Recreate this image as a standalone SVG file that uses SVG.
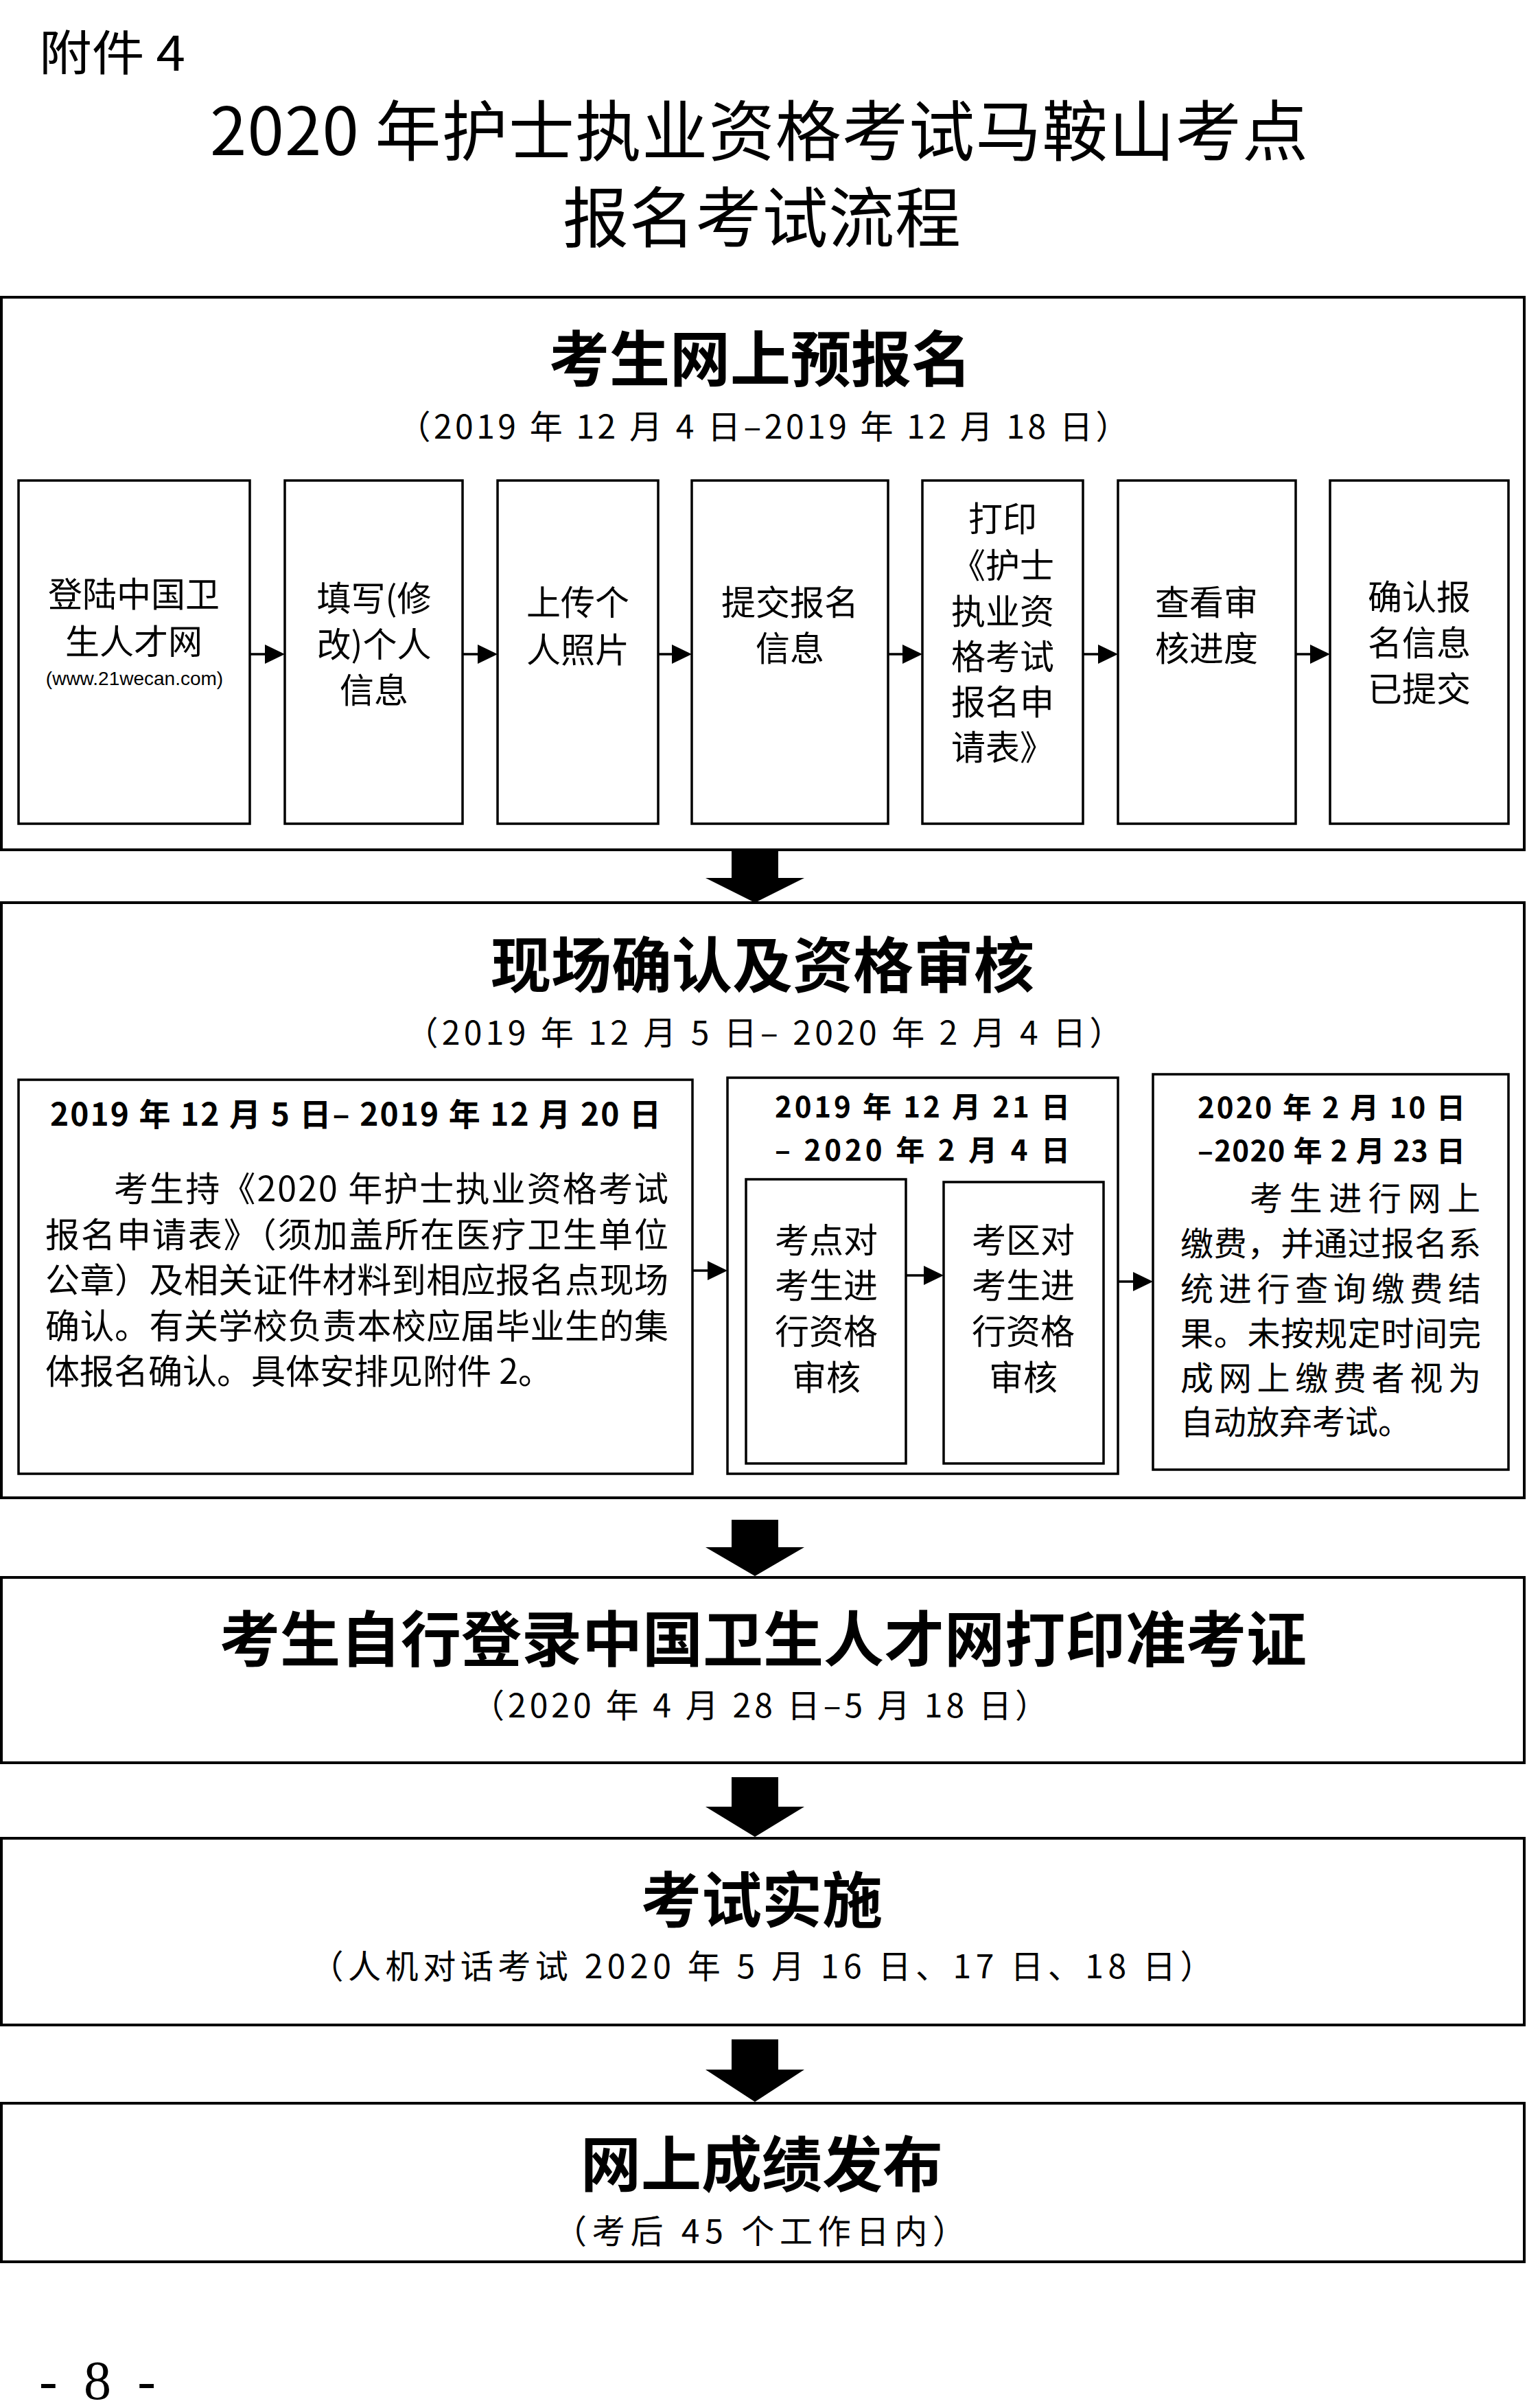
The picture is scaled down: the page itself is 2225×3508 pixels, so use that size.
<svg xmlns="http://www.w3.org/2000/svg" width="2225" height="3508" viewBox="0 0 2225 3508">
<style>
  .bg { fill: #ffffff; }
  .outer { fill: #ffffff; stroke: #000; stroke-width: 4; }
  .inner { fill: #ffffff; stroke: #000; stroke-width: 3.5; }
  .t { font-family: "Noto Sans CJK SC", "Noto Sans", sans-serif; fill: #000; }
  .cal { font-family: "Noto Sans CJK SC", sans-serif; font-size: 96px; fill: #000; }
  .h1 { font-family: "Noto Sans CJK SC", sans-serif; font-weight: 700; font-size: 88px; fill: #000; text-anchor: middle; }
  .sub { font-family: "Noto Sans CJK SC", sans-serif; font-size: 48px; fill: #000; text-anchor: middle; }
  .h2 { font-family: "Noto Sans CJK SC", sans-serif; font-weight: 700; font-size: 46px; fill: #000; text-anchor: middle; }
  .h3 { font-family: "Noto Sans CJK SC", sans-serif; font-weight: 700; font-size: 42px; fill: #000; text-anchor: middle; }
  .body { font-family: "Noto Sans CJK SC", sans-serif; font-size: 50px; fill: #000; }
  .bm { font-family: "Noto Sans CJK SC", sans-serif; font-size: 50px; fill: #000; text-anchor: middle; }
  .rb { font-family: "Noto Sans CJK SC", sans-serif; font-size: 48px; fill: #000; }
  .url { font-family: "Liberation Sans", sans-serif; font-size: 28px; fill: #000; text-anchor: middle; }
  .conn { stroke: #000; stroke-width: 3.5; fill: none; }
  .head { fill: #000; stroke: none; }
</style>
<rect class="bg" x="0" y="0" width="2225" height="3508"/>

<g id="header">
  <text class="t" x="57" y="103" font-size="70" textLength="213" lengthAdjust="spacingAndGlyphs">附件 4</text>
  <text class="cal" x="306" y="226" textLength="1600" lengthAdjust="spacing">2020 年护士执业资格考试马鞍山考点</text>
  <text class="cal" x="820" y="352" textLength="580" lengthAdjust="spacing" font-size="92">报名考试流程</text>
</g>

<!-- Section 1 -->
<g id="section1">
  <rect class="outer" x="2" y="433" width="2219" height="805"/>
  <text class="h1" x="1108" y="555">考生网上预报名</text>
  <text class="sub" x="1112" y="639" textLength="1065" lengthAdjust="spacing">（2019 年 12 月 4 日–2019 年 12 月 18 日）</text>
</g>
<g id="s1-login">
  <rect class="inner" x="27" y="700" width="337" height="500"/>
  <text class="bm" x="195" y="884">登陆中国卫</text>
  <text class="bm" x="195" y="953">生人才网</text>
  <text class="url" x="196" y="998">(www.21wecan.com)</text>
</g>
<g id="s1-fill">
  <rect class="inner" x="415" y="700" width="259" height="500"/>
  <text class="bm" x="545" y="890">填写(修</text>
  <text class="bm" x="545" y="957">改)个人</text>
  <text class="bm" x="545" y="1024">信息</text>
</g>
<g id="s1-photo">
  <rect class="inner" x="725" y="700" width="234" height="500"/>
  <text class="bm" x="842" y="896">上传个</text>
  <text class="bm" x="842" y="965">人照片</text>
</g>
<g id="s1-submit">
  <rect class="inner" x="1008" y="700" width="286" height="500"/>
  <text class="bm" x="1151" y="896">提交报名</text>
  <text class="bm" x="1151" y="963">信息</text>
</g>
<g id="s1-print">
  <rect class="inner" x="1344" y="700" width="234" height="500"/>
  <text class="bm" x="1461" y="774">打印</text>
  <text class="bm" x="1461" y="842">《护士</text>
  <text class="bm" x="1461" y="909">执业资</text>
  <text class="bm" x="1461" y="975">格考试</text>
  <text class="bm" x="1461" y="1041">报名申</text>
  <text class="bm" x="1461" y="1107">请表》</text>
</g>
<g id="s1-check">
  <rect class="inner" x="1629" y="700" width="259" height="500"/>
  <text class="bm" x="1758" y="896">查看审</text>
  <text class="bm" x="1758" y="963">核进度</text>
</g>
<g id="s1-confirm">
  <rect class="inner" x="1938" y="700" width="260" height="500"/>
  <text class="bm" x="2068" y="888">确认报</text>
  <text class="bm" x="2068" y="955">名信息</text>
  <text class="bm" x="2068" y="1022">已提交</text>
</g>

<!-- Section 2 -->
<g id="section2">
  <rect class="outer" x="2" y="1315" width="2219" height="867"/>
  <text class="h1" x="1111" y="1438">现场确认及资格审核</text>
  <text class="sub" x="1113" y="1522" textLength="1045" lengthAdjust="spacing">（2019 年 12 月 5 日– 2020 年 2 月 4 日）</text>
</g>
<g id="s2-onsite">
  <rect class="inner" x="27" y="1573" width="982" height="574"/>
  <text class="h2" x="518" y="1640" textLength="890" lengthAdjust="spacing">2019 年 12 月 5 日– 2019 年 12 月 20 日</text>
  <text class="body" x="166" y="1750" textLength="808" lengthAdjust="spacing">考生持《2020 年护士执业资格考试</text>
  <text class="body" x="66" y="1817" textLength="908" lengthAdjust="spacing">报名申请表》（须加盖所在医疗卫生单位</text>
  <text class="body" x="66" y="1883" textLength="908" lengthAdjust="spacing">公章）及相关证件材料到相应报名点现场</text>
  <text class="body" x="66" y="1950" textLength="908" lengthAdjust="spacing">确认。有关学校负责本校应届毕业生的集</text>
  <text class="body" x="66" y="2016">体报名确认。具体安排见附件 2。</text>
</g>
<g id="s2-review">
  <rect class="inner" x="1060" y="1570" width="569" height="577"/>
  <text class="h3" x="1344" y="1628" textLength="430" lengthAdjust="spacing">2019 年 12 月 21 日</text>
  <text class="h3" x="1344" y="1691" textLength="430" lengthAdjust="spacing">– 2020 年 2 月 4 日</text>
</g>
<g id="s2-site-review">
  <rect class="inner" x="1087" y="1718" width="233" height="414"/>
  <text class="bm" x="1204" y="1825">考点对</text>
  <text class="bm" x="1204" y="1891">考生进</text>
  <text class="bm" x="1204" y="1958">行资格</text>
  <text class="bm" x="1204" y="2025">审核</text>
</g>
<g id="s2-area-review">
  <rect class="inner" x="1375" y="1722" width="233" height="410"/>
  <text class="bm" x="1491" y="1825">考区对</text>
  <text class="bm" x="1491" y="1891">考生进</text>
  <text class="bm" x="1491" y="1958">行资格</text>
  <text class="bm" x="1491" y="2025">审核</text>
</g>
<g id="s2-pay">
  <rect class="inner" x="1680" y="1565" width="518" height="576"/>
  <text class="h3" x="1940" y="1629" textLength="390" lengthAdjust="spacing">2020 年 2 月 10 日</text>
  <text class="h3" x="1940" y="1692" textLength="390" lengthAdjust="spacing">–2020 年 2 月 23 日</text>
  <text class="rb" x="1821" y="1763" textLength="336" lengthAdjust="spacing">考生进行网上</text>
  <text class="rb" x="1720" y="1829" textLength="438" lengthAdjust="spacing">缴费，并通过报名系</text>
  <text class="rb" x="1720" y="1895" textLength="438" lengthAdjust="spacing">统进行查询缴费结</text>
  <text class="rb" x="1720" y="1960" textLength="438" lengthAdjust="spacing">果。未按规定时间完</text>
  <text class="rb" x="1720" y="2025" textLength="438" lengthAdjust="spacing">成网上缴费者视为</text>
  <text class="rb" x="1720" y="2089">自动放弃考试。</text>
</g>

<!-- Section 3 -->
<g id="section3">
  <rect class="outer" x="2" y="2298" width="2219" height="270"/>
  <text class="h1" x="1112" y="2420" font-size="94">考生自行登录中国卫生人才网打印准考证</text>
  <text class="sub" x="1107" y="2502" textLength="840" lengthAdjust="spacing">（2020 年 4 月 28 日–5 月 18 日）</text>
</g>

<!-- Section 4 -->
<g id="section4">
  <rect class="outer" x="2" y="2678" width="2219" height="272"/>
  <text class="h1" x="1110" y="2800">考试实施</text>
  <text class="sub" x="1110" y="2882" textLength="1315" lengthAdjust="spacing">（人机对话考试 2020 年 5 月 16 日、17 日、18 日）</text>
</g>

<!-- Section 5 -->
<g id="section5">
  <rect class="outer" x="2" y="3064" width="2219" height="231"/>
  <text class="h1" x="1110" y="3185">网上成绩发布</text>
  <text class="sub" x="1107" y="3268" textLength="600" lengthAdjust="spacing">（考后 45 个工作日内）</text>
</g>

<g id="footer">
  <text x="57" y="3495" font-family="Liberation Serif, serif" font-size="80" textLength="170" lengthAdjust="spacing">- 8 -</text>
</g>

<g id="connectors">
  <path class="conn" d="M364 953 H388"/><polygon class="head" points="386,939 415,953 386,967"/>
  <path class="conn" d="M674 953 H698"/><polygon class="head" points="696,939 725,953 696,967"/>
  <path class="conn" d="M959 953 H981"/><polygon class="head" points="979,939 1008,953 979,967"/>
  <path class="conn" d="M1294 953 H1317"/><polygon class="head" points="1315,939 1344,953 1315,967"/>
  <path class="conn" d="M1578 953 H1602"/><polygon class="head" points="1600,939 1629,953 1600,967"/>
  <path class="conn" d="M1888 953 H1911"/><polygon class="head" points="1909,939 1938,953 1909,967"/>
  <path class="conn" d="M1009 1851 H1033"/><polygon class="head" points="1031,1837 1060,1851 1031,1865"/>
  <path class="conn" d="M1320 1858 H1348"/><polygon class="head" points="1346,1844 1375,1858 1346,1872"/>
  <path class="conn" d="M1629 1867 H1653"/><polygon class="head" points="1651,1853 1680,1867 1651,1881"/>
  <polygon class="head" points="1066,1238 1134,1238 1134,1279 1172,1279 1100,1315 1028,1279 1066,1279"/>
  <polygon class="head" points="1066,2214 1134,2214 1134,2254 1172,2254 1100,2296 1028,2254 1066,2254"/>
  <polygon class="head" points="1066,2589 1134,2589 1134,2632 1172,2632 1100,2676 1028,2632 1066,2632"/>
  <polygon class="head" points="1066,2971 1134,2971 1134,3015 1172,3015 1100,3062 1028,3015 1066,3015"/>
</g>
</svg>
